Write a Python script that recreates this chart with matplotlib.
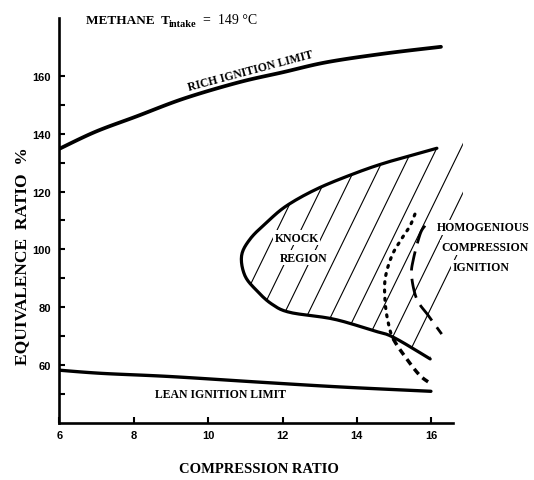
import numpy as np
import matplotlib.pyplot as plt
from matplotlib.patches import Polygon

# curves (compression ratio, equivalence ratio %)
rich_x = [6.0, 6.97, 8.07, 9.35, 10.82, 12.01, 13.2, 14.76, 16.26]
rich_y = [134.8, 140.7, 146.0, 152.2, 157.8, 161.3, 164.8, 167.8, 170.1]

lean_x = [6.0, 7.15, 8.99, 11.46, 13.56, 15.99]
lean_y = [58.2, 57.1, 56.0, 54.0, 52.4, 50.9]

# knock region boundary: from upper tip, round the nose, to lower end
knock_x = [16.15, 14.80, 13.90, 12.92, 12.11, 11.58, 11.13, 10.90, 10.99,
           11.31, 11.71, 12.20, 13.37, 14.44, 14.98, 15.97]
knock_y = [135.0, 130.1, 126.1, 120.9, 115.1, 109.4, 103.6, 97.8, 90.9,
           85.7, 81.1, 78.2, 75.9, 71.9, 69.6, 62.1]

# dotted transition line (upper dotted part, lower dashed part)
trans_x = [15.56, 15.43, 15.20, 14.94, 14.76, 14.76, 14.84, 14.98, 15.34, 15.70, 16.01]
trans_y = [112.2, 108.2, 103.6, 97.8, 89.8, 81.7, 74.8, 69.0, 62.1, 56.3, 53.4]
trans_split = 7

# homogenious compression ignition boundary
hcci_x = [15.83, 15.70, 15.52, 15.47, 15.61, 15.92, 16.28]
hcci_y = [108.2, 105.3, 96.7, 90.9, 82.8, 77.1, 70.7]

# hatching: line positions at 100 %, slope, and the extra hatched area right of the knock region
hatch_x100 = [10.95, 11.6, 12.24, 12.89, 13.53, 14.18, 14.82, 15.47, 16.11, 16.76, 17.4]
hatch_slope = 26.4
hatch_edge_x = [16.1, 16.64, 16.85, 16.85]
hatch_edge_y = [75.0, 87.0, 100.0, 138.0]

x_ticks = [6, 8, 10, 12, 14, 16]
y_ticks = [60, 80, 100, 120, 140, 160]
y_minor = [50, 70, 90, 110, 130, 150]

serif = "Liberation Serif"
W, H = 534, 481


def smooth(xs, ys, n=12):
    # catmull-rom through the read points, only to draw a rounder line
    p = np.column_stack([xs, ys]).astype(float)
    p = np.vstack([p[0], p, p[-1]])
    out = []
    t = np.linspace(0, 1, n, endpoint=False)[:, None]
    for i in range(1, len(p) - 2):
        p0, p1, p2, p3 = p[i - 1], p[i], p[i + 1], p[i + 2]
        out.append(0.5 * (2 * p1 + (-p0 + p2) * t + (2 * p0 - 5 * p1 + 4 * p2 - p3) * t ** 2
                          + (-p0 + 3 * p1 - 3 * p2 + p3) * t ** 3))
    out.append(p[-2][None, :])
    out = np.vstack(out)
    return out[:, 0], out[:, 1]


fig = plt.figure(figsize=(W / 100, H / 100), dpi=100)
ax = fig.add_axes([59.3 / W, 57.2 / H, 409.2 / W, 404.6 / H])
ax.set_xlim(6, 17)
ax.set_ylim(40, 180)

for s in ["top", "right"]:
    ax.spines[s].set_visible(False)
ax.spines["left"].set_linewidth(1.9)
ax.spines["bottom"].set_linewidth(1.9)
ax.spines["bottom"].set_bounds(6, 16.58)

ax.set_xticks(x_ticks)
ax.set_yticks(y_ticks)
ax.set_yticks(y_minor, minor=True)
ax.tick_params(which="both", direction="in", width=1.5, length=4, labelsize=8,
               labelfontfamily="Liberation Sans")
ax.tick_params(axis="y", pad=6)
ax.tick_params(axis="x", pad=5)
for lbl in ax.get_xticklabels() + ax.get_yticklabels():
    lbl.set_fontweight("bold")

# hatch lines clipped to the knock region
clip = Polygon(np.column_stack([knock_x + hatch_edge_x, knock_y + hatch_edge_y]),
               closed=True, fc="none", ec="none", transform=ax.transData)
ax.add_patch(clip)
yy = np.array([40.0, 180.0])
for x0 in hatch_x100:
    ln, = ax.plot(x0 + (yy - 100) / hatch_slope, yy, color="black", lw=0.8, zorder=1)
    ln.set_clip_path(clip)

ax.plot(*smooth(rich_x, rich_y), color="black", lw=2.7, solid_capstyle="round", zorder=3)
ax.plot(*smooth(lean_x, lean_y), color="black", lw=2.4, solid_capstyle="round", zorder=3)
ax.plot(*smooth(knock_x, knock_y), color="black", lw=2.3, solid_capstyle="round", zorder=3)
tx, ty = smooth(trans_x, trans_y)
k = trans_split * 12
ax.plot(tx[:k + 1], ty[:k + 1], color="black", lw=2.3,
        linestyle=(0, (0.6, 2.0)), dash_capstyle="round", zorder=3)
ax.plot(tx[k:], ty[k:], color="black", lw=2.5, linestyle=(0, (2.0, 1.5)), zorder=3)
ax.plot(*smooth(hcci_x, hcci_y), color="black", lw=2.0, linestyle=(0, (7, 3)), zorder=3)

box = dict(fc="white", ec="none", pad=1)
ax.text(11.15, 161.9, "RICH IGNITION LIMIT", family=serif, weight="bold", fontsize=8.5,
        rotation=15, rotation_mode="anchor", ha="center", va="center")
ax.text(10.32, 49.8, "LEAN IGNITION LIMIT", family=serif, weight="bold", fontsize=8.5,
        ha="center", va="center")
ax.text(12.38, 104.0, "KNOCK", family=serif, weight="bold", fontsize=8.5,
        ha="center", va="center", bbox=box, zorder=4)
ax.text(12.58, 97.1, "REGION", family=serif, weight="bold", fontsize=8.5,
        ha="center", va="center", bbox=box, zorder=4)
ax.text(17.40, 107.6, "HOMOGENIOUS", family=serif, weight="bold", fontsize=8.5,
        ha="center", va="center", bbox=box, zorder=4)
ax.text(17.44, 100.7, "COMPRESSION", family=serif, weight="bold", fontsize=8.5,
        ha="center", va="center", bbox=box, zorder=4)
ax.text(17.33, 93.8, "IGNITION", family=serif, weight="bold", fontsize=8.5,
        ha="center", va="center", bbox=box, zorder=4)

ax.set_xlabel("COMPRESSION RATIO", family=serif, weight="bold", fontsize=10.5)
ax.xaxis.set_label_coords(0.488, -0.097)
ax.set_ylabel("EQUIVALENCE  RATIO  %", family=serif, weight="bold", fontsize=12.5)
ax.yaxis.set_label_coords(-0.072, 0.415)

# title: METHANE T_intake = 149 °C
fig.text(86 / W, 1 - 23.5 / H, "METHANE  T", family=serif, weight="bold", fontsize=9.5,
         va="baseline")
fig.text(168.5 / W, 1 - 27 / H, "intake", family=serif, weight="bold", fontsize=7.5,
         va="baseline")
fig.text(203 / W, 1 - 23.5 / H, "=  149 \u00b0C", family=serif, fontsize=10,
         va="baseline")

fig.savefig("out.png", dpi=100)
